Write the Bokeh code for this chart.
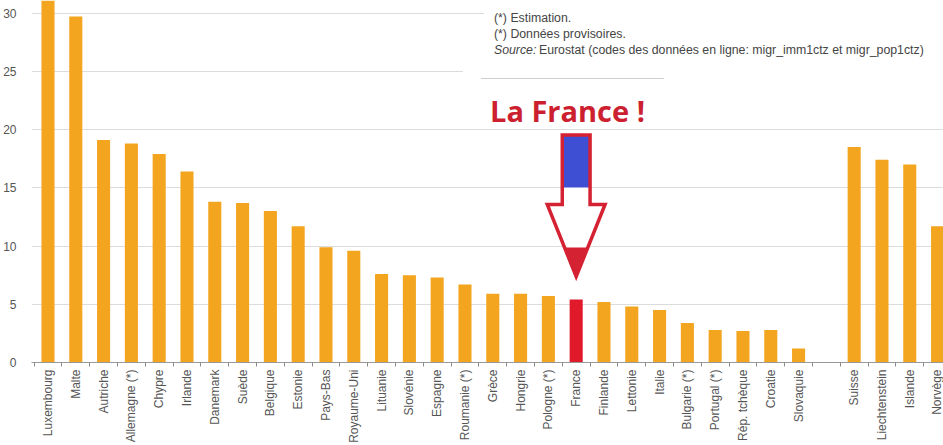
import math
from bokeh.plotting import figure
from bokeh.models import ColumnDataSource, FixedTicker, Range1d, Label
from bokeh.embed import file_html
from bokeh.resources import INLINE

# ---- data ----
categories = ["Luxembourg", "Malte", "Autriche", "Allemagne (*)", "Chypre", "Irlande",
              "Danemark", "Suède", "Belgique", "Estonie", "Pays-Bas", "Royaume-Uni",
              "Lituanie", "Slovénie", "Espagne", "Roumanie (*)", "Grèce", "Hongrie",
              "Pologne (*)", "France", "Finlande", "Lettonie", "Italie", "Bulgarie (*)",
              "Portugal (*)", "Rép. tchèque", "Croatie", "Slovaquie", "",
              "Suisse", "Liechtenstein", "Islande", "Norvège"]
values = [38.0, 29.7, 19.1, 18.8, 17.9, 16.4,
          13.8, 13.7, 13.0, 11.7, 9.9, 9.6,
          7.6, 7.5, 7.3, 6.7, 5.9, 5.9,
          5.7, 5.4, 5.2, 4.8, 4.5, 3.4,
          2.8, 2.7, 2.8, 1.2, None,
          18.5, 17.4, 17.0, 11.7]
y_ticks = [0, 5, 10, 15, 20, 25, 30]
highlight = "France"
notes = ["(*) Estimation.", "(*) Données provisoires."]
source_label = "Source:"
source_text = "Eurostat (codes des données en ligne: migr_imm1ctz et migr_pop1ctz)"
callout = "La France !"

ORANGE = "#F3A51F"
RED = "#E0192B"
ARROW_RED = "#D52232"
BLUE = "#3E4FD3"

idx = [i for i, v in enumerate(values) if v is not None]
src = ColumnDataSource(dict(
    x=idx,
    top=[values[i] for i in idx],
    color=[RED if categories[i] == highlight else ORANGE for i in idx],
))

X0 = -0.593
X1 = X0 + 913 / 27.83
Y1 = 362 / 11.65

p = figure(width=943, height=445, x_range=Range1d(X0, X1), y_range=Range1d(0, Y1),
           output_backend="svg", toolbar_location=None, title=None,
           min_border_left=30, min_border_right=0, min_border_top=0, min_border_bottom=83)
p.outline_line_color = None
p.background_fill_color = "white"
p.border_fill_color = "white"

# pixel helpers for annotations (reference layout)
def px2x(px):
    return (px - 30) / 27.83 + X0

def py2y(py):
    return (362 - py) / 11.65

# white boxes hiding gridlines behind the notes
p.quad(left=px2x(483), right=X1 + 1, bottom=py2y(60), top=Y1 + 1, fill_color="white", line_color=None)
p.quad(left=px2x(462), right=X1 + 1, bottom=py2y(77), top=py2y(60), fill_color="white", line_color=None)
p.line(x=[px2x(480), px2x(663)], y=[py2y(78), py2y(78)], line_color="#cfcfcf", line_width=1)

p.vbar(x="x", top="top", width=0.47, bottom=0, fill_color="color", line_color=None, source=src)

# axes
p.xgrid.grid_line_color = None
p.ygrid.grid_line_color = "#dcdcdc"
p.ygrid.grid_line_width = 1

p.yaxis.ticker = FixedTicker(ticks=y_ticks)
p.yaxis.axis_line_color = None
p.yaxis.major_tick_line_color = None
p.yaxis.minor_tick_line_color = None
p.yaxis.major_label_text_font = "Liberation Sans"
p.yaxis.major_label_text_font_size = "12px"
p.yaxis.major_label_text_color = "#555555"
p.yaxis.major_label_standoff = 9

n = len(categories)
p.xaxis.ticker = FixedTicker(ticks=list(range(n)), minor_ticks=[i - 0.5 for i in range(n + 1)])
p.xaxis.major_label_overrides = {i: c for i, c in enumerate(categories)}
p.xaxis.major_label_orientation = math.pi / 2
p.xaxis.major_tick_line_color = None
p.xaxis.major_tick_out = 0
p.xaxis.major_tick_in = 0
p.xaxis.minor_tick_line_color = "#888888"
p.xaxis.minor_tick_out = 4
p.xaxis.minor_tick_in = 0
p.xaxis.axis_line_color = "#999999"
p.xaxis.major_label_text_font = "Liberation Sans"
p.xaxis.major_label_text_font_size = "12px"
p.xaxis.major_label_text_color = "#555555"
p.xaxis.major_label_standoff = 3

# notes
NOTE_SIZE = "12.3px"
for k, t in enumerate(notes):
    p.add_layout(Label(x=px2x(493), y=py2y(17 + 16 * k), text=t, text_font="Liberation Sans",
                       text_font_size=NOTE_SIZE, text_color="#444444", text_baseline="alphabetic"))
p.add_layout(Label(x=px2x(493), y=py2y(49), text=source_label, text_font="Liberation Sans",
                   text_font_style="italic", text_font_size=NOTE_SIZE, text_color="#444444",
                   text_baseline="alphabetic"))
p.add_layout(Label(x=px2x(538), y=py2y(49), text=source_text, text_font="Liberation Sans",
                   text_font_size=NOTE_SIZE, text_color="#444444", text_baseline="alphabetic"))

p.add_layout(Label(x=px2x(489), y=py2y(110), text=callout, text_font="Open Sans",
                   text_font_style="bold", text_font_size="29px", text_color="#CC1F30",
                   text_baseline="alphabetic"))

# arrow pointing to France
fx = categories.index(highlight)
sw, hw = 0.50, 1.04
y_top, y_base, y_tip = py2y(134.5), py2y(204), py2y(276)
ax = [fx - sw, fx + sw, fx + sw, fx + hw, fx, fx - hw, fx - sw]
ay = [y_top, y_top, y_base, y_base, y_tip, y_base, y_base]
p.patch(ax, ay, fill_color="white", line_color=None)
y_blue = py2y(187)
p.quad(left=fx - sw, right=fx + sw, bottom=y_blue, top=y_top, fill_color=BLUE, line_color=None)
y_red = py2y(247)
frac = (y_red - y_tip) / (y_base - y_tip)
rw = hw * frac
p.patch([fx - rw, fx + rw, fx], [y_red, y_red, y_tip], fill_color=ARROW_RED, line_color=None)
p.patch(ax, ay, fill_color=None, line_color=ARROW_RED, line_width=3.5, line_join="miter")

open("out.html", "w").write(file_html(p, INLINE))
